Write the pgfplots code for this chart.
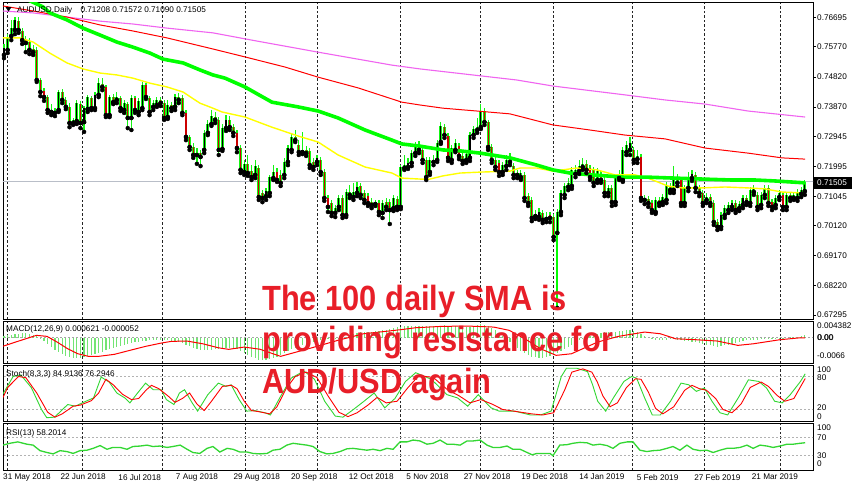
\documentclass[border=0pt]{standalone}
\usepackage{pgfplots}
\pgfplotsset{compat=1.18}
\usepackage{pgfplotstable}
\usepackage{fontspec}
\setmainfont{Liberation Sans}
\newfontfamily\bigf[FakeStretch=0.88]{Liberation Sans}
\newcommand\lab{\fontsize{8.2}{9.5}\selectfont}

\definecolor{lime}{RGB}{0,255,0}
\definecolor{wick}{RGB}{20,245,20}
\definecolor{mtgreen}{RGB}{50,215,50}
\definecolor{histgreen}{RGB}{115,228,115}
\definecolor{bigred}{RGB}{232,30,40}
\definecolor{maviolet}{RGB}{240,100,240}
\definecolor{bidgray}{RGB}{185,190,200}
\definecolor{maYellow}{RGB}{255,255,0}

% i open high low close
\pgfplotstableread{
i O H L C
0 0.7551 0.7586 0.7541 0.7573
1 0.7567 0.7617 0.7557 0.7608
2 0.7611 0.7662 0.7598 0.7636
3 0.7630 0.7671 0.7617 0.7662
4 0.7658 0.7671 0.7621 0.7630
5 0.7627 0.7636 0.7586 0.7598
6 0.7598 0.7611 0.7560 0.7589
7 0.7592 0.7605 0.7554 0.7567
8 0.7570 0.7583 0.7551 0.7560
9 0.7567 0.7576 0.7466 0.7472
10 0.7472 0.7478 0.7421 0.7434
11 0.7437 0.7447 0.7406 0.7418
12 0.7418 0.7425 0.7368 0.7377
13 0.7377 0.7396 0.7361 0.7371
14 0.7368 0.7383 0.7358 0.7374
15 0.7377 0.7440 0.7371 0.7434
16 0.7434 0.7444 0.7399 0.7409
17 0.7409 0.7418 0.7380 0.7387
18 0.7387 0.7399 0.7323 0.7336
19 0.7336 0.7352 0.7330 0.7346
20 0.7342 0.7409 0.7333 0.7399
21 0.7396 0.7406 0.7320 0.7336
22 0.7339 0.7390 0.7308 0.7383
23 0.7380 0.7425 0.7371 0.7418
24 0.7415 0.7421 0.7377 0.7383
25 0.7383 0.7434 0.7377 0.7425
26 0.7425 0.7478 0.7418 0.7462
27 0.7459 0.7478 0.7440 0.7450
28 0.7450 0.7456 0.7355 0.7361
29 0.7361 0.7425 0.7355 0.7418
30 0.7418 0.7428 0.7396 0.7402
31 0.7409 0.7434 0.7399 0.7418
32 0.7415 0.7421 0.7374 0.7383
33 0.7377 0.7409 0.7368 0.7399
34 0.7396 0.7402 0.7320 0.7352
35 0.7352 0.7425 0.7314 0.7415
36 0.7415 0.7421 0.7368 0.7377
37 0.7371 0.7415 0.7361 0.7406
38 0.7383 0.7466 0.7377 0.7456
39 0.7456 0.7462 0.7412 0.7418
40 0.7415 0.7421 0.7361 0.7371
41 0.7387 0.7409 0.7377 0.7399
42 0.7393 0.7418 0.7387 0.7409
43 0.7409 0.7418 0.7390 0.7399
44 0.7399 0.7409 0.7346 0.7352
45 0.7355 0.7409 0.7349 0.7393
46 0.7393 0.7402 0.7374 0.7383
47 0.7387 0.7428 0.7377 0.7418
48 0.7418 0.7431 0.7399 0.7409
49 0.7415 0.7425 0.7361 0.7368
50 0.7368 0.7377 0.7282 0.7292
51 0.7292 0.7298 0.7251 0.7260
52 0.7260 0.7273 0.7226 0.7235
53 0.7235 0.7257 0.7207 0.7241
54 0.7241 0.7251 0.7200 0.7229
55 0.7251 0.7314 0.7241 0.7305
56 0.7305 0.7346 0.7298 0.7333
57 0.7333 0.7377 0.7327 0.7358
58 0.7355 0.7371 0.7336 0.7346
59 0.7346 0.7355 0.7235 0.7251
60 0.7254 0.7333 0.7248 0.7320
61 0.7320 0.7361 0.7311 0.7346
62 0.7346 0.7358 0.7314 0.7323
63 0.7323 0.7333 0.7295 0.7305
64 0.7305 0.7314 0.7244 0.7257
65 0.7257 0.7267 0.7178 0.7188
66 0.7181 0.7219 0.7172 0.7207
67 0.7207 0.7235 0.7169 0.7178
68 0.7184 0.7203 0.7156 0.7165
69 0.7172 0.7219 0.7162 0.7200
70 0.7194 0.7203 0.7093 0.7102
71 0.7115 0.7124 0.7086 0.7099
72 0.7105 0.7131 0.7093 0.7121
73 0.7115 0.7172 0.7105 0.7165
74 0.7162 0.7203 0.7156 0.7181
75 0.7181 0.7194 0.7150 0.7156
76 0.7172 0.7188 0.7137 0.7147
77 0.7172 0.7226 0.7162 0.7213
78 0.7213 0.7267 0.7203 0.7257
79 0.7251 0.7305 0.7244 0.7292
80 0.7292 0.7314 0.7276 0.7282
81 0.7267 0.7282 0.7235 0.7244
82 0.7244 0.7308 0.7238 0.7251
83 0.7251 0.7263 0.7232 0.7241
84 0.7248 0.7257 0.7194 0.7203
85 0.7213 0.7226 0.7188 0.7197
86 0.7213 0.7235 0.7203 0.7226
87 0.7219 0.7229 0.7172 0.7181
88 0.7181 0.7191 0.7090 0.7099
89 0.7099 0.7109 0.7055 0.7071
90 0.7083 0.7093 0.7042 0.7052
91 0.7052 0.7077 0.7039 0.7067
92 0.7071 0.7109 0.7061 0.7099
93 0.7099 0.7109 0.7036 0.7045
94 0.7045 0.7128 0.7039 0.7118
95 0.7118 0.7140 0.7099 0.7109
96 0.7102 0.7147 0.7093 0.7118
97 0.7115 0.7150 0.7105 0.7134
98 0.7137 0.7147 0.7099 0.7109
99 0.7115 0.7124 0.7083 0.7093
100 0.7105 0.7115 0.7074 0.7083
101 0.7086 0.7099 0.7067 0.7077
102 0.7080 0.7093 0.7074 0.7083
103 0.7083 0.7093 0.7045 0.7055
104 0.7052 0.7093 0.7036 0.7083
105 0.7086 0.7099 0.7061 0.7071
106 0.7086 0.7096 0.7017 0.7061
107 0.7067 0.7109 0.7058 0.7099
108 0.7096 0.7105 0.7061 0.7071
109 0.7071 0.7203 0.7064 0.7197
110 0.7194 0.7235 0.7188 0.7203
111 0.7197 0.7226 0.7191 0.7210
112 0.7210 0.7251 0.7200 0.7241
113 0.7241 0.7276 0.7232 0.7267
114 0.7267 0.7279 0.7241 0.7251
115 0.7251 0.7263 0.7210 0.7219
116 0.7219 0.7229 0.7156 0.7165
117 0.7181 0.7229 0.7172 0.7219
118 0.7219 0.7235 0.7203 0.7213
119 0.7219 0.7282 0.7213 0.7273
120 0.7276 0.7339 0.7270 0.7327
121 0.7323 0.7333 0.7289 0.7298
122 0.7295 0.7305 0.7216 0.7226
123 0.7219 0.7267 0.7210 0.7257
124 0.7251 0.7286 0.7244 0.7273
125 0.7263 0.7273 0.7222 0.7232
126 0.7232 0.7241 0.7207 0.7216
127 0.7219 0.7251 0.7210 0.7238
128 0.7226 0.7308 0.7216 0.7298
129 0.7298 0.7327 0.7289 0.7317
130 0.7314 0.7352 0.7305 0.7323
131 0.7323 0.7396 0.7317 0.7374
132 0.7374 0.7383 0.7330 0.7339
133 0.7339 0.7346 0.7251 0.7260
134 0.7260 0.7270 0.7210 0.7219
135 0.7219 0.7229 0.7188 0.7197
136 0.7210 0.7219 0.7169 0.7181
137 0.7181 0.7213 0.7172 0.7203
138 0.7200 0.7235 0.7188 0.7219
139 0.7229 0.7241 0.7203 0.7213
140 0.7200 0.7210 0.7162 0.7172
141 0.7175 0.7188 0.7162 0.7172
142 0.7165 0.7188 0.7156 0.7178
143 0.7172 0.7181 0.7090 0.7099
144 0.7105 0.7115 0.7074 0.7083
145 0.7093 0.7102 0.7026 0.7036
146 0.7042 0.7061 0.7033 0.7045
147 0.7039 0.7067 0.7030 0.7055
148 0.7052 0.7061 0.7020 0.7030
149 0.7033 0.7055 0.7023 0.7039
150 0.7045 0.7055 0.7023 0.7036
151 0.7039 0.7049 0.6966 0.6976
152 0.6989 0.7064 0.6752 0.7055
153 0.7055 0.7124 0.7045 0.7115
154 0.7109 0.7147 0.7099 0.7137
155 0.7134 0.7162 0.7124 0.7147
156 0.7137 0.7197 0.7128 0.7188
157 0.7175 0.7203 0.7165 0.7188
158 0.7184 0.7219 0.7175 0.7200
159 0.7197 0.7226 0.7188 0.7207
160 0.7207 0.7219 0.7178 0.7188
161 0.7194 0.7203 0.7156 0.7165
162 0.7188 0.7197 0.7137 0.7147
163 0.7156 0.7194 0.7147 0.7184
164 0.7175 0.7184 0.7147 0.7156
165 0.7156 0.7165 0.7105 0.7115
166 0.7115 0.7140 0.7105 0.7131
167 0.7131 0.7140 0.7074 0.7086
168 0.7086 0.7175 0.7077 0.7165
169 0.7162 0.7188 0.7156 0.7172
170 0.7156 0.7260 0.7150 0.7251
171 0.7244 0.7279 0.7235 0.7267
172 0.7251 0.7292 0.7235 0.7273
173 0.7251 0.7260 0.7210 0.7219
174 0.7222 0.7251 0.7210 0.7232
175 0.7229 0.7238 0.7090 0.7099
176 0.7099 0.7109 0.7080 0.7093
177 0.7096 0.7105 0.7071 0.7083
178 0.7083 0.7093 0.7052 0.7061
179 0.7055 0.7102 0.7049 0.7093
180 0.7093 0.7102 0.7074 0.7083
181 0.7086 0.7112 0.7077 0.7102
182 0.7093 0.7150 0.7083 0.7140
183 0.7134 0.7147 0.7115 0.7124
184 0.7124 0.7200 0.7115 0.7162
185 0.7162 0.7175 0.7137 0.7147
186 0.7156 0.7165 0.7074 0.7083
187 0.7083 0.7140 0.7074 0.7131
188 0.7131 0.7181 0.7121 0.7165
189 0.7162 0.7188 0.7153 0.7175
190 0.7172 0.7181 0.7118 0.7131
191 0.7131 0.7140 0.7105 0.7115
192 0.7115 0.7124 0.7074 0.7083
193 0.7093 0.7115 0.7083 0.7102
194 0.7102 0.7112 0.7074 0.7083
195 0.7083 0.7093 0.7014 0.7023
196 0.7023 0.7033 0.6998 0.7008
197 0.7008 0.7055 0.7001 0.7045
198 0.7045 0.7077 0.7036 0.7067
199 0.7061 0.7086 0.7052 0.7077
200 0.7071 0.7093 0.7061 0.7083
201 0.7083 0.7093 0.7052 0.7061
202 0.7067 0.7090 0.7058 0.7080
203 0.7077 0.7109 0.7067 0.7099
204 0.7099 0.7109 0.7077 0.7086
205 0.7083 0.7134 0.7074 0.7124
206 0.7118 0.7140 0.7109 0.7131
207 0.7109 0.7118 0.7061 0.7071
208 0.7077 0.7118 0.7067 0.7109
209 0.7109 0.7140 0.7099 0.7131
210 0.7131 0.7140 0.7074 0.7083
211 0.7086 0.7096 0.7061 0.7071
212 0.7077 0.7109 0.7067 0.7099
213 0.7102 0.7124 0.7093 0.7115
214 0.7109 0.7118 0.7061 0.7071
215 0.7071 0.7118 0.7061 0.7109
216 0.7109 0.7118 0.7090 0.7099
217 0.7099 0.7118 0.7093 0.7109
218 0.7099 0.7128 0.7090 0.7118
219 0.7112 0.7134 0.7102 0.7124
220 0.71208 0.71572 0.71090 0.71505
}\candles

% MACD(12,26,9) main value per bar
\pgfplotstableread{
i m
0 0.0004
1 0.0006
2 0.0008
3 0.0010
4 0.0011
5 0.0012
6 0.0012
7 0.0011
8 0.0008
9 0.0004
10 -0.0002
11 -0.0009
12 -0.0017
13 -0.0025
14 -0.0032
15 -0.0038
16 -0.0043
17 -0.0047
18 -0.0050
19 -0.0052
20 -0.0053
21 -0.0052
22 -0.0050
23 -0.0048
24 -0.0045
25 -0.0042
26 -0.0039
27 -0.0036
28 -0.0033
29 -0.0030
30 -0.0027
31 -0.0024
32 -0.0021
33 -0.0018
34 -0.0016
35 -0.0014
36 -0.0012
37 -0.0010
38 -0.0009
39 -0.0008
40 -0.0007
41 -0.0006
42 -0.0006
43 -0.0006
44 -0.0007
45 -0.0007
46 -0.0008
47 -0.0009
48 -0.0011
49 -0.0014
50 -0.0018
51 -0.0022
52 -0.0026
53 -0.0029
54 -0.0031
55 -0.0032
56 -0.0032
57 -0.0031
58 -0.0030
59 -0.0029
60 -0.0027
61 -0.0026
62 -0.0026
63 -0.0027
64 -0.0030
65 -0.0035
66 -0.0040
67 -0.0045
68 -0.0050
69 -0.0054
70 -0.0057
71 -0.0058
72 -0.0058
73 -0.0056
74 -0.0053
75 -0.0049
76 -0.0045
77 -0.0040
78 -0.0035
79 -0.0030
80 -0.0026
81 -0.0022
82 -0.0018
83 -0.0015
84 -0.0012
85 -0.0010
86 -0.0008
87 -0.0006
88 -0.0005
89 -0.0004
90 -0.0003
91 -0.0002
92 -0.0001
93 0.0001
94 0.0003
95 0.0006
96 0.0009
97 0.0012
98 0.0014
99 0.0015
100 0.0016
101 0.0016
102 0.0017
103 0.0018
104 0.0019
105 0.0021
106 0.0023
107 0.0025
108 0.0027
109 0.0029
110 0.0030
111 0.0031
112 0.0031
113 0.0031
114 0.0031
115 0.0031
116 0.0031
117 0.0030
118 0.0030
119 0.0031
120 0.0032
121 0.0033
122 0.0032
123 0.0031
124 0.0030
125 0.0029
126 0.0028
127 0.0028
128 0.0029
129 0.0031
130 0.0033
131 0.0035
132 0.0034
133 0.0030
134 0.0025
135 0.0019
136 0.0012
137 0.0005
138 -0.0003
139 -0.0011
140 -0.0019
141 -0.0027
142 -0.0034
143 -0.0040
144 -0.0045
145 -0.0049
146 -0.0051
147 -0.0052
148 -0.0052
149 -0.0050
150 -0.0047
151 -0.0044
152 -0.0040
153 -0.0035
154 -0.0030
155 -0.0024
156 -0.0018
157 -0.0012
158 -0.0007
159 -0.0003
160 0.0001
161 0.0004
162 0.0007
163 0.0010
164 0.0012
165 0.0014
166 0.0015
167 0.0016
168 0.0016
169 0.0017
170 0.0018
171 0.0019
172 0.0019
173 0.0017
174 0.0014
175 0.0009
176 0.0004
177 0.0000
178 -0.0003
179 -0.0005
180 -0.0006
181 -0.0006
182 -0.0005
183 -0.0004
184 -0.0004
185 -0.0005
186 -0.0007
187 -0.0008
188 -0.0009
189 -0.0010
190 -0.0012
191 -0.0014
192 -0.0016
193 -0.0018
194 -0.0020
195 -0.0022
196 -0.0023
197 -0.0022
198 -0.0020
199 -0.0018
200 -0.0015
201 -0.0013
202 -0.0011
203 -0.0009
204 -0.0007
205 -0.0006
206 -0.0005
207 -0.0005
208 -0.0004
209 -0.0003
210 -0.0003
211 -0.0002
212 -0.0002
213 -0.0001
214 -0.0001
215 0.0000
216 0.0001
217 0.0002
218 0.0003
219 0.0005
220 0.000621
}\macd

\begin{document}
\begin{tikzpicture}
\useasboundingbox (0pt,0pt) rectangle (852pt,-485pt);
\fill[white] (0pt,0pt) rectangle (852pt,-485pt);

\pgfplotsset{
  mt/.style={
    scale only axis, width=810pt,
    xmin=-0.27, xmax=222.25,
    axis line style={black, line width=0.9pt},
    xtick={0.8,21.4,43.4,66.2,86.0,108.8,130.8,150.8,172.5,192.3,213.2},
    xticklabels={}, xtick style={draw=none},
    xmajorgrids,
    major grid style={black!85, line width=0.7pt, dash pattern=on 2.5pt off 2pt},
    ytick=\empty,
  },
  wickstyle/.style={only marks, mark=none, forget plot,
    error bars/.cd, y dir=plus, y explicit, error mark=none,
    error bar style={draw=wick, solid, line width=1.2pt}},
  bodystyle/.style={only marks, mark=none, forget plot,
    error bars/.cd, y dir=plus, y explicit, error mark=none,
    error bar style={draw=#1, solid, line width=2.9pt}},
  innerstyle/.style={only marks, mark=none, forget plot,
    error bars/.cd, y dir=plus, y explicit, error mark=none,
    error bar style={draw=#1, solid, line width=1.2pt}},
}

% ---------------- main price panel
\begin{axis}[mt, at={(3pt,-2pt)}, anchor=north west, height=317pt,
  ymin=0.67168, ymax=0.77185,
  ytick={0.67295,0.68220,0.69170,0.70120,0.71045,0.71995,0.72945,0.73870,0.74820,0.75770,0.76695},
  yticklabels={0.67295,0.68220,0.69170,0.70120,0.71045,0.71995,0.72945,0.73870,0.74820,0.75770,0.76695},
  ytick pos=right, yticklabel pos=right, tick align=outside,
  major tick length=3pt, ytick style={black, line width=0.6pt},
  yticklabel style={font=\lab, inner sep=0pt, xshift=1pt},
]
\addplot[bidgray, line width=1.3pt, forget plot] coordinates {(-1,0.71505) (223,0.71505)};
% candles
\addplot[wickstyle] table[x=i, y=L, y error expr=\thisrow{H}-\thisrow{L}] {\candles};
% the flash-crash wick of 3 Jan 2019 (bar 152: low 0.6752, open 0.6989)
\addplot[lime, line width=1.8pt, forget plot] coordinates {(152,0.6752) (152,0.6989)};
\addplot[restrict expr to domain={\thisrow{C}-\thisrow{O}}{0:1}, bodystyle=wick]
  table[x=i, y=O, y error expr=\thisrow{C}-\thisrow{O}] {\candles};
\addplot[restrict expr to domain={\thisrow{C}-\thisrow{O}}{0:1}, innerstyle=black]
  table[x=i, y=O, y error expr=\thisrow{C}-\thisrow{O}] {\candles};
\addplot[restrict expr to domain={\thisrow{C}-\thisrow{O}}{-1:0}, bodystyle=wick]
  table[x=i, y=C, y error expr=\thisrow{O}-\thisrow{C}] {\candles};
\addplot[restrict expr to domain={\thisrow{C}-\thisrow{O}}{-1:0}, innerstyle=red!80!black]
  table[x=i, y=C, y error expr=\thisrow{O}-\thisrow{C}] {\candles};
% moving averages
\addplot[maviolet, line width=1.1pt] coordinates {
(-0.3,0.7690) (8.0,0.7684) (17.3,0.7671) (26.4,0.7658) (35.4,0.7649) (44.8,0.7636)
(57.4,0.7621) (68.1,0.7598) (86.3,0.7560) (106.6,0.7519) (114.3,0.7507) (140.9,0.7472)
(150.8,0.7453) (170.6,0.7425) (181.6,0.7409) (192.6,0.7396) (204.4,0.7374) (220.1,0.7355)};
\addplot[red, line width=1.0pt] coordinates {
(-0.3,0.7706) (8.0,0.7690) (17.3,0.7671) (26.4,0.7646) (35.4,0.7627) (44.8,0.7605)
(57.4,0.7570) (66.2,0.7545) (77.2,0.7513) (86.3,0.7481) (97.3,0.7447) (109.3,0.7402)
(114.3,0.7393) (120.6,0.7383) (129.9,0.7374) (139.0,0.7365) (150.8,0.7330) (161.0,0.7314)
(170.6,0.7298) (181.6,0.7286) (192.6,0.7257) (204.4,0.7241) (213.7,0.7226) (220.1,0.7222)};
\addplot[maYellow, line width=1.4pt] coordinates {
(-0.3,0.7605) (4.4,0.7605) (8.0,0.7592) (12.6,0.7557) (17.3,0.7526) (21.7,0.7507)
(26.4,0.7494) (31.0,0.7488) (35.4,0.7478) (40.1,0.7462) (44.8,0.7450) (49.2,0.7434)
(53.8,0.7399) (57.4,0.7383) (59.9,0.7371) (66.2,0.7355) (73.6,0.7323) (80.8,0.7295)
(86.3,0.7276) (91.8,0.7235) (99.2,0.7197) (106.6,0.7178) (109.3,0.7162) (114.3,0.7159)
(117.0,0.7159) (120.6,0.7169) (125.3,0.7178) (130.8,0.7181) (139.0,0.7184) (141.8,0.7194)
(146.4,0.7194) (150.8,0.7184) (157.4,0.7194) (162.9,0.7188) (167.9,0.7172) (173.4,0.7172)
(176.9,0.7162) (182.4,0.7137) (186.3,0.7131) (191.8,0.7131) (198.1,0.7134) (204.4,0.7131)
(209.1,0.7128) (213.7,0.7118) (220.1,0.7115)};
\addplot[lime, line width=3.6pt] coordinates {
(4.4,0.7737) (10.7,0.7703) (12.6,0.7684) (17.3,0.7662) (21.7,0.7636) (26.4,0.7614)
(31.0,0.7592) (35.4,0.7576) (40.1,0.7557) (43.7,0.7538) (49.2,0.7526) (53.8,0.7504)
(57.4,0.7488) (60.7,0.7478) (66.2,0.7450) (73.6,0.7402) (80.8,0.7387) (86.3,0.7374)
(91.8,0.7352) (99.2,0.7314) (106.6,0.7282) (109.3,0.7270) (114.3,0.7263) (120.6,0.7251)
(125.3,0.7248) (130.8,0.7241) (139.0,0.7226) (146.4,0.7203) (150.8,0.7188) (155.5,0.7178)
(161.8,0.7172) (170.1,0.7165) (176.9,0.7165) (184.3,0.7162) (191.8,0.7159) (200.0,0.7156)
(206.3,0.7156) (211.8,0.7153) (220.1,0.7147)};
\end{axis}

% ---------------- MACD panel
\begin{axis}[mt, at={(3pt,-321pt)}, anchor=north west, height=42pt,
  ymin=-0.0066, ymax=0.004382]
\addplot[black!35, dash pattern=on 2pt off 2pt, line width=0.6pt, forget plot] coordinates {(-1,0) (223,0)};
\addplot[histgreen, ycomb, line width=1.2pt, mark=none] table[x=i, y=m] {\macd};
\addplot[red, line width=1pt] coordinates {
(-0.4,-0.00225) (3.2,-0.00112) (8.9,0.00063) (11.8,0.00037) (14.6,-0.00112) (17.5,-0.00288)
(20.3,-0.00418) (23.2,-0.00486) (26.0,-0.00486) (30.3,-0.00434) (34.6,-0.00329) (38.9,-0.00225)
(43.2,-0.00139) (46.0,-0.00094) (50.3,-0.00086) (54.6,-0.00157) (58.9,-0.00262) (61.7,-0.00303)
(66.0,-0.00243) (70.3,-0.0030) (76.0,-0.00486) (84.6,-0.00262) (91.7,-0.00068) (98.8,0.00105)
(103.1,0.00149) (108.8,0.00209) (113.1,0.00262) (120.3,0.00298) (127.4,0.00306) (134.5,0.00280)
(138.8,0.00194) (143.1,-0.00026) (147.4,-0.00288) (151.7,-0.0046) (155.9,-0.00418) (163.1,-0.00112)
(168.8,0.00037) (176.0,0.00149) (180.3,0.00105) (184.5,-0.00026) (190.2,-0.00052) (196.0,-0.00086)
(201.6,-0.00199) (205.9,-0.00157) (213.1,-0.00052) (218.8,0) (220.1,-0.000052)};
\end{axis}

% ---------------- Stochastic panel
\begin{axis}[mt, at={(3pt,-365pt)}, anchor=north west, height=56pt,
  ymin=-1, ymax=101]
\addplot[black!30, dash pattern=on 2pt off 2pt, line width=0.6pt, forget plot] coordinates {(-1,80) (223,80)};
\addplot[black!30, dash pattern=on 2pt off 2pt, line width=0.6pt, forget plot] coordinates {(-1,20) (223,20)};
\addplot[mtgreen, line width=0.9pt] coordinates {
(-0.4,47) (2.5,80) (4.6,83) (7.5,60) (10.3,20) (11.75,5) (13.9,6) (17.5,29) (19.6,26) (22.5,35)
(24.6,41) (26.7,79) (28.9,70) (31.0,50) (33.2,41) (34.6,32) (36.7,50) (38.9,68) (41.0,56) (43.2,56)
(44.6,38) (46.7,29) (48.2,50) (49.6,56) (51.7,32) (53.2,17) (56.0,47) (58.9,68) (61.0,62) (62.4,65)
(64.6,38) (66.7,17) (68.9,18) (71.7,14) (73.2,10) (76.0,44) (78.9,77) (82.4,90) (85.3,75) (88.1,35)
(91.0,8) (93.1,6) (96.0,20) (98.9,35) (101.7,50) (104.6,23) (107.4,40) (110.3,71) (113.1,87)
(117.4,75) (121.7,47) (124.6,41) (127.4,26) (130.3,47) (133.8,23) (136.0,17) (140.3,17) (144.6,10)
(147.4,10) (150.3,17) (153.1,80) (154.5,95) (157.4,95) (160.3,89) (161.7,65) (163.1,35) (165.3,17)
(167.4,41) (170.3,71) (172.4,80) (173.8,77) (176.0,41) (178.1,10) (180.3,10) (183.1,35) (186.0,68)
(188.1,65) (190.2,53) (192.4,59) (194.5,35) (196.7,14) (198.8,10) (201.7,41) (204.5,74) (207.4,71)
(209.5,59) (211.7,35) (213.8,32) (216.0,47) (218.8,71) (220.1,84.9)};
\addplot[red, line width=0.9pt] coordinates {
(-0.4,40) (1,60) (4,80) (6,78) (9,50) (12,15) (14,6) (16,12) (19,26) (21,28) (24,36) (26,50)
(28,75) (30,65) (32.5,48) (35,38) (37,40) (39,55) (40.5,64) (42.5,58) (45,45) (47,33) (49,40)
(51,50) (53,30) (55,18) (57,35) (60,62) (62.5,64) (64,58) (66,35) (68,18) (70,16) (73,12) (75,25)
(77.5,58) (80,80) (83,88) (86,78) (89,45) (92,15) (94.5,7) (97,14) (100,28) (102.5,42) (105,32)
(108,35) (111,60) (114,82) (118,78) (122,55) (125,45) (128,32) (131,38) (134,30) (137,20) (141,16)
(145,12) (148,10) (151,14) (154,55) (156,88) (159,94) (161.5,88) (163,70) (164.5,45) (166.5,25)
(168.5,32) (171,60) (173.5,76) (175,75) (177,52) (179,22) (181,12) (184,25) (187,55) (189,64)
(191,58) (193,55) (195.5,40) (197.5,20) (200,14) (202.5,30) (205,60) (208,70) (210,62) (212.5,45)
(214.5,35) (217,40) (220.1,76.3)};
\end{axis}

% ---------------- RSI panel
\begin{axis}[mt, at={(3pt,-423pt)}, anchor=north west, height=47pt,
  ymin=-1, ymax=101,
  extra x ticks={-0.27,15.5,31.4,47.2,63.0,78.8,94.7,110.5,126.3,142.1,158.0,173.8,189.6,205.4},
  extra x tick labels={31 May 2018,22 Jun 2018,16 Jul 2018,7 Aug 2018,29 Aug 2018,20 Sep 2018,12 Oct 2018,5 Nov 2018,27 Nov 2018,19 Dec 2018,14 Jan 2019,5 Feb 2019,27 Feb 2019,21 Mar 2019},
  extra x tick style={grid=none, major tick length=0pt,
    tick label style={font=\lab, anchor=north west, inner sep=0pt, yshift=-4pt}},
]
\addplot[black!30, dash pattern=on 2pt off 2pt, line width=0.6pt, forget plot] coordinates {(-1,70) (223,70)};
\addplot[black!30, dash pattern=on 2pt off 2pt, line width=0.6pt, forget plot] coordinates {(-1,30) (223,30)};
\addplot[mtgreen, line width=1.3pt] coordinates {
(-0.3,53) (1.6,57) (3.8,60) (6.3,55) (8.0,53) (9.9,41) (11.8,37) (13.5,34) (15.4,41) (17.3,39)
(19.0,35) (20.9,41) (22.8,42) (24.5,46) (26.4,52) (28.3,44) (29.9,48) (31.9,48) (33.8,44)
(35.4,50) (37.4,51) (39.3,53) (40.9,50) (42.9,51) (44.8,48) (46.4,50) (48.4,53) (50.3,44)
(51.9,37) (53.8,35) (55.8,46) (57.4,50) (59.3,38) (61.3,46) (62.9,44) (64.8,38) (66.8,38)
(68.4,35) (70.3,34) (72.3,35) (73.9,42) (75.8,44) (77.7,53) (79.4,57) (81.3,55) (83.2,53)
(84.9,50) (86.8,39) (88.7,34) (90.4,35) (92.3,39) (94.2,45) (95.9,46) (97.8,44) (99.7,42)
(101.4,44) (103.3,41) (105.2,46) (106.9,44) (108.8,60) (110.7,60) (112.4,64) (114.3,62)
(116.2,55) (117.9,57) (119.8,64) (121.7,55) (123.4,55) (125.3,53) (127.2,62) (128.8,62)
(130.8,64) (132.7,53) (134.3,48) (136.3,48) (138.2,51) (139.8,44) (141.8,44) (143.7,37)
(145.1,32) (146.4,35) (148.1,35) (150.0,35) (150.8,30) (152.7,53) (154.7,54) (156.3,57)
(158.2,59) (160.2,58) (161.8,53) (163.7,55) (165.7,52) (167.3,46) (169.2,57) (171.2,60)
(172.8,60) (174.7,42) (176.6,39) (178.3,41) (180.2,42) (182.1,46) (183.8,50) (185.7,42)
(187.6,53) (189.3,44) (191.2,41) (193.1,42) (194.8,37) (196.7,42) (198.6,46) (200.3,46)
(202.2,48) (204.1,53) (205.8,46) (207.7,53) (209.6,51) (211.3,48) (213.2,51) (215.1,55)
(216.8,55) (218.7,57) (220.1,58.2)};
\end{axis}

% ---------------- texts and labels
\fill[black] (5.5pt,-7pt) -- (11.5pt,-7pt) -- (8.5pt,-11.5pt) -- cycle;
\node[anchor=base west, inner sep=0pt, font=\lab] at (17pt,-12pt)
  {AUDUSD,Daily\quad 0.71208 0.71572 0.71090 0.71505};
\node[anchor=base west, inner sep=0pt, font=\lab] at (6pt,-331pt)
  {MACD(12,26,9) 0.000621 -0.000052};
\node[anchor=base west, inner sep=0pt, font=\lab] at (6pt,-376pt)
  {Stoch(8,3,3) 84.9136 76.2946};
\node[anchor=base west, inner sep=0pt, font=\lab] at (6pt,-435pt)
  {RSI(13) 58.2014};

\fill[black] (814pt,-177pt) rectangle (852pt,-189pt);
\node[anchor=west, inner sep=0pt, font=\lab, text=white] at (817pt,-183pt) {0.71505};

% oscillator scale labels
\begin{scope}[every node/.style={anchor=west, inner sep=0pt, font=\lab}]
\node at (817pt,-326pt) {0.004382};
\node at (817pt,-338pt) {0.00};
\node at (817.4pt,-338pt) {0.00};
\node at (817pt,-356pt) {-0.0066};
\node at (817pt,-369.5pt) {100};
\node at (817pt,-378pt) {80};
\node at (817pt,-408pt) {20};
\node at (817pt,-416.5pt) {0};
\node at (817pt,-427.5pt) {100};
\node at (817pt,-437.5pt) {70};
\node at (817pt,-455.5pt) {30};
\node at (817pt,-464pt) {0};
\end{scope}

% overlay headline
\begin{scope}[every node/.style={anchor=base west, inner sep=0pt, text=bigred,
    font=\bigf\bfseries\fontsize{35}{42}\selectfont}]
\node at (262pt,-310pt) {The 100 daily SMA is};
\node at (262pt,-351pt) {providing resistance for};
\node at (262pt,-393pt) {AUD/USD again};
\end{scope}
\end{tikzpicture}
\end{document}
